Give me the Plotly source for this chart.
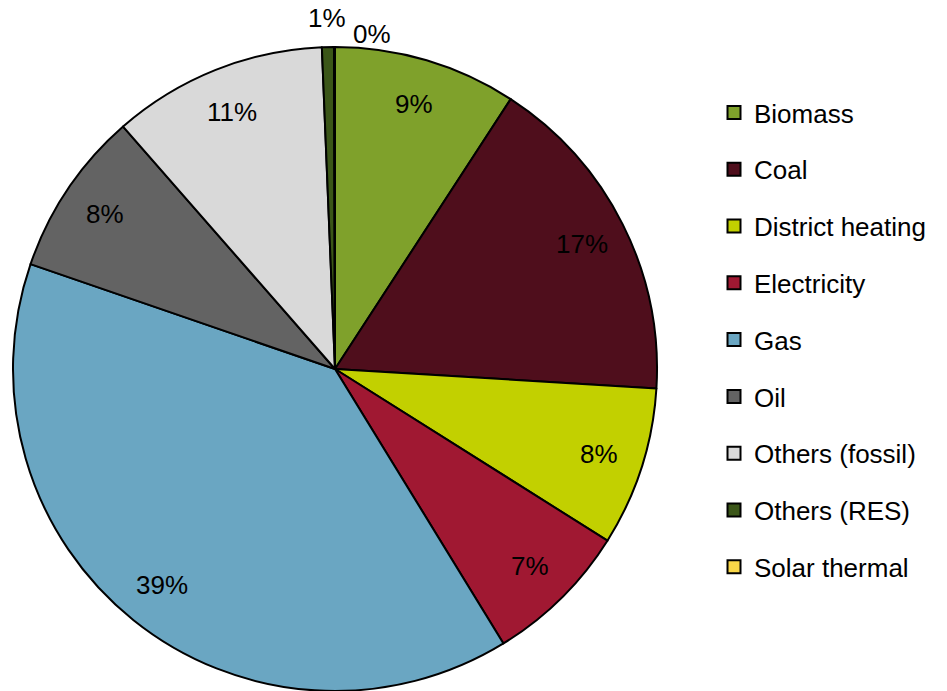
import math
import plotly.graph_objects as go

labels = ["Biomass", "Coal", "District heating", "Electricity", "Gas", "Oil",
          "Others (fossil)", "Others (RES)", "Solar thermal"]
values = [9.2, 16.8, 8.0, 7.3, 39.1, 8.3, 10.8, 0.6, 0.05]
colors = ["#7FA12B", "#4F0E1C", "#C2D000", "#A01832", "#6AA6C2", "#636363",
          "#D9D9D9", "#3B5618", "#F9D748"]
outside = [False] * 7 + [True, True]

W, H = 947, 691
dom_x = [12 / W, 658 / W]
dom_y = [0.0, 0.932]
FONT = "Liberation Sans, Arial"
FS = 26

fig = go.Figure()
fig.add_trace(go.Pie(
    labels=labels, values=values, sort=False, direction="clockwise", rotation=0,
    marker=dict(colors=colors, line=dict(color="black", width=2)),
    textinfo="none", showlegend=False, hoverinfo="label+percent",
    domain=dict(x=dom_x, y=dom_y), automargin=False,
))

# legend entries (one per category)
for lab, col in zip(labels, colors):
    fig.add_trace(go.Scatter(
        x=[None], y=[None], mode="markers", name=lab, legendgroup=lab,
        marker=dict(symbol="square", size=13, color=col,
                    line=dict(color="black", width=2)),
        showlegend=True, hoverinfo="skip",
    ))

# percentage labels placed along each slice's mid-angle
cx = (dom_x[0] + dom_x[1]) / 2 * W
cy = (1 - (dom_y[0] + dom_y[1]) / 2) * H
R = min((dom_x[1] - dom_x[0]) * W, (dom_y[1] - dom_y[0]) * H) / 2
total = sum(values)
cum = 0.0
annotations = []
for i, v in enumerate(values):
    mid = (cum + v / 2) / total
    cum += v
    th = 2 * math.pi * mid
    pct = f"{round(100 * v / total):.0f}%"
    if not outside[i]:
        r = 0.86 * R
        x = cx + r * math.sin(th)
        y = cy - r * math.cos(th)
        annotations.append(dict(x=x / W, y=1 - y / H, xref="paper", yref="paper",
                                text=pct, showarrow=False, xanchor="center", yanchor="middle",
                                font=dict(family=FONT, size=FS, color="black")))
    else:
        if labels[i] == "Others (RES)":
            r = 1.09 * R
            x = cx + r * math.sin(th)
            y = cy - r * math.cos(th)
            annotations.append(dict(x=x / W, y=1 - y / H, xref="paper", yref="paper",
                                    text=pct, showarrow=False, xanchor="center", yanchor="middle",
                                    font=dict(family=FONT, size=FS, color="black")))
        else:
            r = 1.04 * R
            x = cx + r * math.sin(th)
            y = cy - r * math.cos(th)
            annotations.append(dict(x=x / W, y=1 - y / H, xref="paper", yref="paper",
                                    text=pct, showarrow=False, xanchor="left", yanchor="middle",
                                    xshift=17,
                                    font=dict(family=FONT, size=FS, color="black")))

fig.update_layout(
    width=W, height=H, margin=dict(l=0, r=0, t=0, b=0, autoexpand=False),
    paper_bgcolor="white", plot_bgcolor="white",
    font=dict(family=FONT, size=FS, color="black"),
    xaxis=dict(visible=False), yaxis=dict(visible=False),
    legend=dict(x=714 / W, y=1 - 89 / H, xanchor="left", yanchor="top",
                font=dict(family=FONT, size=FS), itemwidth=30,
                tracegroupgap=20, bgcolor="rgba(0,0,0,0)"),
    annotations=annotations,
)
fig.write_html("out.html", post_script="document.body.style.margin='0';",
               config={"displayModeBar": False})
